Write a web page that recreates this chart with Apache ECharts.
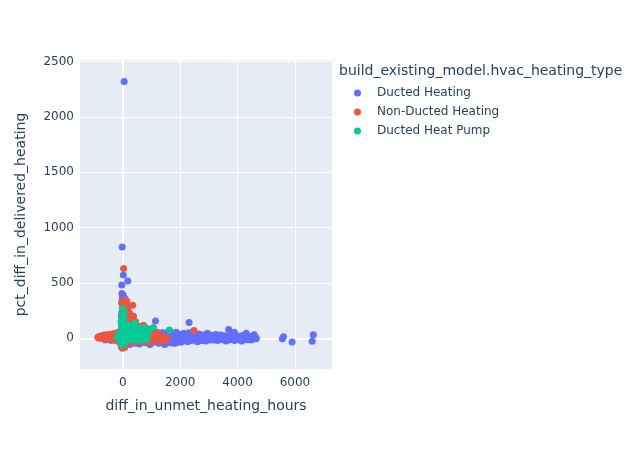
<!DOCTYPE html>
<html>
<head>
<meta charset="utf-8">
<script src="https://cdn.jsdelivr.net/npm/echarts@6/dist/echarts.min.js"></script>
<style>
  html, body { margin: 0; padding: 0; background: #fff; }
  #chart { width: 642px; height: 450px; }
</style>
</head>
<body>
<div id="chart"></div>
<script>
// legend / category names
var seriesNames = ['Ducted Heating', 'Non-Ducted Heating', 'Ducted Heat Pump'];
var seriesColors = ['#636efa', '#EF553B', '#00cc96'];
var xTicks = [0, 2000, 4000, 6000];
var yTicks = [0, 500, 1000, 1500, 2000, 2500];

// [diff_in_unmet_heating_hours, pct_diff_in_delivered_heating]
var ductedHeating = [
    [50, 2320], [-20, 825], [20, 572], [175, 518], [-35, 482],
    [-30, 405], [10, 395], [-10, 380], [40, 370], [80, 355], [-20, 350], [120, 340], [60, 330],
    [-40, 320], [150, 300], [30, 300], [100, 280], [-10, 270], [60, 250], [200, 240], [370, 200],
    [250, 180], [-50, 200], [130, 210],
    [1140, 156], [2310, 143], [3690, 81], [3890, 54], [4300, 45], [4580, 33], [4650, -4],
    [5600, 14], [5560, -4], [5900, -33], [6640, 33], [6600, -27],
    [-700, 15], [-600, 5], [-550, 25], [-500, -5], [-450, 15], [-400, 30], [-350, 0], [-300, 20],
    [-250, -10], [-200, 35], [-150, 10], [-100, -20], [-100, 45], [-50, 25], [0, -35], [0, 60],
    [-650, 30], [-600, -15], [-500, 35], [-400, -20], [-300, 40], [-200, -25], [-150, 55], [-80, -40],
    [-50, 70], [-20, -55],
    [80, -50], [150, -30], [200, 70], [250, -55], [300, 10], [320, -20], [380, 50], [420, -45],
    [450, 25], [500, -10], [540, 70], [580, -50], [620, 35], [660, -25], [700, 5], [740, 60],
    [780, -40], [820, 20], [860, -15], [900, 45], [950, -55], [1000, 10], [1040, 70], [1080, -30],
    [1120, 35], [1160, -10], [1200, 55], [1250, -45], [1300, 20], [1340, -20], [1380, 50], [1420, -5],
    [1460, -55], [1500, 30], [1540, -25], [1580, 60], [1620, 5], [1660, -40], [1700, 40], [1740, -15],
    [1780, 20], [1820, -45], [1860, 55], [1900, 0], [1940, -25], [1980, 35], [2030, -35], [2080, 15],
    [2120, 45], [2170, -10], [2220, 25], [2260, -30], [2300, 50], [2350, 5], [2400, -20], [2450, 35],
    [2500, -5], [2550, 20], [2600, -30], [2650, 40], [2700, 0], [2750, -20], [2800, 30], [2850, 10],
    [2900, -25], [2950, 45], [3000, 5], [3060, -15], [3120, 25], [3180, -5], [3240, 35], [3300, -20],
    [3360, 10], [3420, 30], [3480, -10], [3540, 20], [3600, -25], [3660, 15], [3720, -5], [3780, 30],
    [3840, 0], [3900, -20], [3960, 20], [4020, -10], [4080, 15], [4150, -25], [4200, 5], [4260, 25],
    [4330, -10], [4400, 10], [4470, -15], [4530, 20], [4600, 0],
    [40, -30], [130, -25], [220, -35], [310, -30], [400, -25], [490, -35], [570, -28], [660, -32],
    [750, -25], [840, -35], [930, -30], [1020, -38], [1110, -28], [1200, -33], [1290, -30], [1380, -40],
    [1470, -32], [1560, -38], [1650, -30], [1740, -42], [1830, -30], [1920, -35],
    [60, -10], [160, -12], [260, -8], [360, -14], [460, -10], [560, -6], [660, -12], [760, -8],
    [860, -10], [960, -14], [1060, -6], [1160, -12], [1260, -10], [1360, -15], [1460, -8], [1560, -12],
    [1660, -10], [1760, -6], [1860, -14], [1960, -10],
    [40, 12], [140, 8], [240, 14], [340, 10], [440, 6], [540, 12], [640, 10], [740, 14],
    [840, 8], [940, 12], [1040, 10], [1140, 6], [1240, 14], [1340, 10], [1440, 8], [1540, 12],
    [1640, 10], [1740, 6], [1840, 12], [1940, 10],
    [80, 32], [180, 28], [280, 34], [380, 30], [480, 26], [580, 32], [680, 30], [780, 34],
    [880, 28], [980, 30], [1080, 26], [1180, 32], [1280, 30], [1380, 28], [1480, 34], [1580, 30],
    [1680, 26], [1780, 32], [1880, 28], [1980, 24],
    [120, 52], [260, 48], [400, 55], [520, 50], [640, 56], [760, 48], [880, 52], [1000, 46],
    [1120, 50], [1240, 44], [1360, 48], [1480, 42], [1600, 46], [1720, 40], [1840, 44], [1960, 38],
    [2040, -12], [2120, -8], [2200, -14], [2280, -10], [2360, -6], [2440, -12], [2520, -10], [2600, -8],
    [2680, -12], [2760, -10], [2840, -6], [2920, -12], [3000, -8], [3080, -10], [3160, -14], [3240, -8],
    [3320, -10], [3400, -6], [3480, -12], [3560, -8], [3640, -10], [3720, -12], [3800, -6], [3880, -10],
    [3960, -8], [4040, -12], [4120, -6], [4200, -10], [4280, -8], [4360, -12], [4440, -6], [4520, -8],
    [2000, 12], [2080, 8], [2160, 10], [2240, 14], [2320, 8], [2400, 12], [2480, 10], [2560, 6],
    [2640, 12], [2720, 10], [2800, 8], [2880, 14], [2960, 10], [3040, 6], [3120, 12], [3200, 10],
    [3280, 8], [3360, 12], [3440, 10], [3520, 6], [3600, 12], [3680, 8], [3760, 10], [3840, 12],
    [3920, 6], [4000, 10], [4080, 8], [4160, 12], [4240, 10], [4320, 6], [4400, 12], [4480, 8],
    [4560, 10], [4640, 6],
    [2040, 30], [2140, 26], [2240, 32], [2340, 28], [2440, 24], [2540, 30], [2640, 26], [2740, 28],
    [2840, 22], [2940, 28], [3040, 24], [3140, 20], [3240, 26], [3340, 22], [3440, 18], [3540, 24],
    [3640, 20], [3740, 22], [3840, 18], [3940, 22], [4040, 18], [4140, 24], [4240, 16], [4340, 20],
    [4440, 18]
];

var nonDuctedHeating = [
    [-870, 10], [-820, 15], [-780, 5], [-740, 12], [-700, 20], [-660, 8], [-620, 15], [-580, 0],
    [-540, 18], [-500, 10], [-460, 25], [-420, 5], [-380, 15], [-340, 30], [-300, 0], [-260, 20],
    [-220, 10], [-180, 35], [-140, -5], [-100, 25], [-60, 45], [-40, -20],
    [-850, 5], [-800, 20], [-760, -2], [-720, 25], [-680, 2], [-640, 22], [-600, 28], [-560, -5],
    [-520, 30], [-480, -2], [-440, 35], [-400, -8], [-360, 40], [-320, -10], [-280, 42], [-240, -12],
    [-200, 45], [-160, -15], [-120, 55], [-80, -25], [-60, 70], [-40, 100], [-20, -60],
    [-10, -90], [20, -70], [-30, -50], [30, -30], [0, 80], [-20, 120], [30, 150], [-10, 180],
    [20, 210], [50, 240], [10, 270], [60, 300], [90, 320], [-20, 330], [40, 340], [140, 337],
    [30, 630], [350, 300], [175, 256], [250, 220], [100, 190],
    [150, 110], [250, 80], [300, 130], [400, 60], [500, 100], [550, 40], [650, 70], [730, 117],
    [800, 30], [900, 55], [950, 10], [1050, 35], [1150, -10], [1250, 20], [1350, 0], [1450, -15],
    [1550, 5], [1000, 80], [1200, 50], [2480, 72], [600, -20], [300, -40], [200, -30],
    [450, -30], [700, -35], [850, -25], [1000, -30], [1100, -15], [1300, -25], [1400, 10], [1500, -5],
    [1250, 40], [1050, 60], [850, 90], [650, 110], [450, 150], [350, 200], [200, 170], [120, 250],
    [-40, 230], [80, 280], [0, 300], [70, -80], [-50, -75], [40, -55], [-70, -40], [100, -45]
];

var ductedHeatPump = [
    [0, -60], [-10, -40], [10, -20], [-20, 0], [20, 20], [0, 40], [-10, 60], [10, 80], [-5, 100],
    [15, 120], [0, 140], [-10, 160], [10, 180], [-5, 200], [5, 220], [0, 250], [10, 265],
    [-25, -10], [25, 30], [-30, 50], [30, 70],
    [-50, -50], [40, -50], [-60, 20], [60, -30], [50, 50], [-50, 90], [40, 110], [-40, 130],
    [30, 160], [-30, 190], [20, 230], [-15, 240], [45, 200], [-60, 150], [60, 140],
    [60, 10], [100, 40], [150, 0], [200, 60], [250, 20], [300, 80], [350, -5], [400, 40], [450, 10],
    [500, 60], [550, 25], [600, 0], [650, 45], [700, 15], [780, 30], [850, 5], [120, 90], [220, -10],
    [330, 110], [428, 138], [777, 99], [1066, 99], [1624, 75], [900, 60], [170, 120],
    [-100, 10], [-150, 25], [-60, -5],
    [-200, 15], [-120, 40], [-80, -25], [0, -10], [80, -20], [180, 30], [280, -15], [380, 70],
    [480, -20], [580, 70], [680, -15], [760, 60], [820, -10], [120, 60], [230, 100], [420, 90],
    [520, 85], [620, 90], [720, 80], [800, 90]
];

var chart = null;
(function() {
    chart = echarts.init(document.getElementById('chart'));
    var font = '"DejaVu Sans", Verdana, sans-serif';
    var txt = '#2a3f5f';
    var dataList = [ductedHeating, nonDuctedHeating, ductedHeatPump];
    var series = [];
    for (var i = 0; i < dataList.length; i++) {
        series.push({
            name: seriesNames[i],
            type: 'scatter',
            symbolSize: 7,
            itemStyle: { color: seriesColors[i], opacity: 1 },
            data: dataList[i],
            animation: false
        });
    }
    // zero lines, like plotly's thicker white lines under the markers
    series[0].markLine = {
        silent: true,
        symbol: 'none',
        z: 1,
        label: { show: false },
        lineStyle: { color: '#fff', width: 2, type: 'solid' },
        data: [{ xAxis: 0 }, { yAxis: 0 }],
        animation: false
    };
    var plain = function(v) { return String(v); };

    var option = {
        backgroundColor: '#fff',
        textStyle: { fontFamily: font, color: txt },
        title: {
            text: 'build_existing_model.hvac_heating_type',
            left: 339,
            top: 64,
            padding: 0,
            textStyle: { fontFamily: font, fontSize: 14, fontWeight: 'normal', color: txt }
        },
        legend: {
            orient: 'vertical',
            left: 354,
            top: 86,
            padding: 0,
            itemWidth: 7,
            itemHeight: 7,
            itemGap: 5,
            icon: 'circle',
            textStyle: { fontFamily: font, fontSize: 12, color: txt, lineHeight: 14, padding: [0, 0, 0, 11] },
            data: seriesNames
        },
        grid: {
            left: 80,
            right: 310,
            top: 60,
            bottom: 81,
            show: true,
            backgroundColor: '#E5ECF6',
            borderWidth: 0
        },
        xAxis: {
            type: 'value',
            min: -1490,
            max: 7290,
            name: 'diff_in_unmet_heating_hours',
            nameLocation: 'middle',
            nameGap: 30,
            nameTextStyle: { fontFamily: font, fontSize: 14, color: txt },
            axisLine: { show: false },
            axisTick: { show: false, customValues: xTicks },
            axisLabel: { customValues: xTicks, formatter: plain, margin: 8, fontSize: 12, color: txt, fontFamily: font },
            splitLine: { show: true, lineStyle: { color: '#fff', width: 1 } }
        },
        yAxis: {
            type: 'value',
            min: -277,
            max: 2515,
            name: 'pct_diff_in_delivered_heating',
            nameLocation: 'middle',
            nameGap: 52,
            nameTextStyle: { fontFamily: font, fontSize: 14, color: txt },
            axisLine: { show: false },
            axisTick: { show: false, customValues: yTicks },
            axisLabel: { customValues: yTicks, formatter: plain, margin: 6, fontSize: 12, color: txt, fontFamily: font },
            splitLine: { show: true, lineStyle: { color: '#fff', width: 1 } }
        },
        series: series
    };
    chart.setOption(option);
})();
</script>
</body>
</html>
